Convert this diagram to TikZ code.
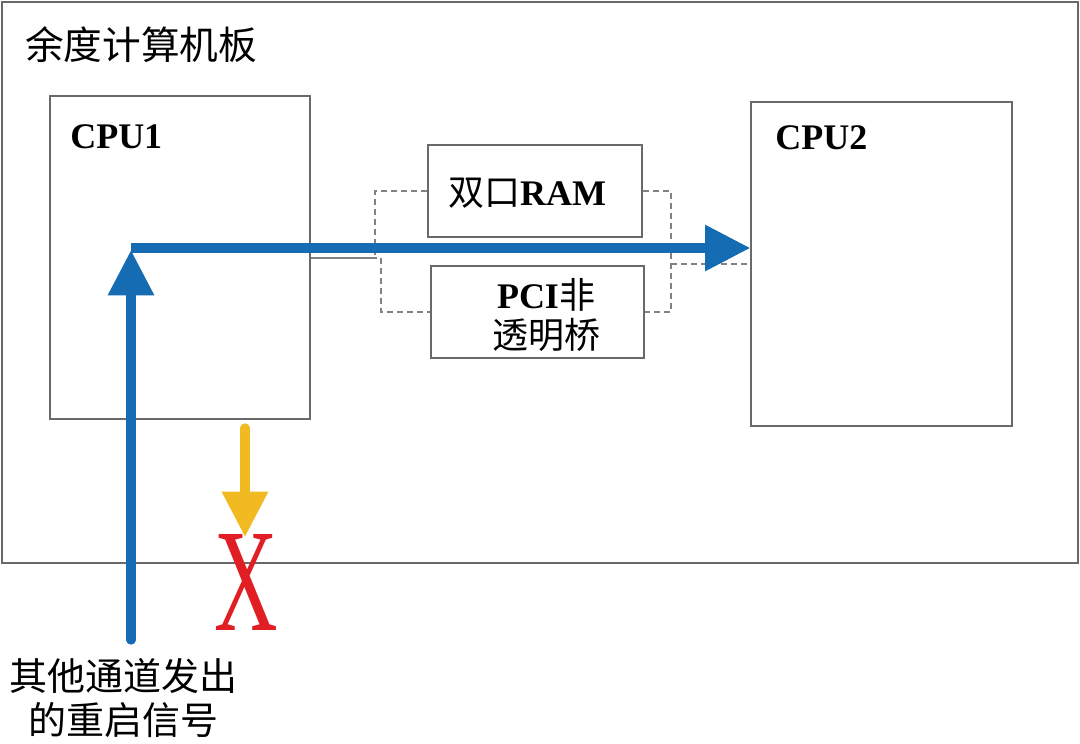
\documentclass[tikz,border=0pt]{standalone}
\usepackage{fontspec}
\setmainfont{Liberation Serif}
\newfontfamily\cjk{Noto Sans CJK SC}
\usetikzlibrary{arrows.meta,fit}
\definecolor{boxgray}{RGB}{105,105,105}
\definecolor{linkgray}{RGB}{130,130,130}
\definecolor{sigblue}{RGB}{22,108,178}
\definecolor{sigyellow}{RGB}{240,186,32}
\definecolor{xred}{RGB}{224,30,36}
\newcommand\cjkm[1]{{\cjk\mdseries #1}}
\begin{document}
\begin{tikzpicture}[x=0.75pt,y=-0.75pt,
  box/.style={draw=boxgray, line width=1pt, inner sep=0pt},
  link/.style={draw=linkgray, line width=1pt, dash pattern=on 4.5pt off 3pt},
  solidlink/.style={draw=linkgray, line width=1pt},
  sig/.style={line width=7pt, line cap=round, -{Triangle[length=34pt,width=33pt]}},
  lbl/.style={inner sep=0pt, font=\fontsize{27pt}{30pt}\selectfont\bfseries},
  cjklbl/.style={inner sep=0pt, align=center, font=\fontsize{28.5pt}{33pt}\selectfont\cjk}]
\useasboundingbox (0,0) rectangle (1080,743);
\fill[white] (0,0) rectangle (1080,743);

% boxes
\node[box, fit={(2,2) (1078,563)}] (board) {};
\node[box, fit={(50,96) (310,419)}] (cpu1) {};
\node[box, fit={(751,102) (1012,426)}] (cpu2) {};
\node[box, fit={(428,145) (642,237)}] (ram) {};
\node[box, fit={(431,266) (644,358)}] (pci) {};

% labels
\node[cjklbl, font=\fontsize{29pt}{33pt}\selectfont\cjk] (title) at (141,45) {余度计算机板};
\node[lbl, anchor=base west] (cpu1lbl) at (70,148) {CPU1};
\node[lbl, anchor=base west] (cpu2lbl) at (775,149) {CPU2};
\node[lbl] (ramlbl) at (527,193) {\cjkm{双口}RAM};
\node[lbl, align=center] (pcilbl) at (546,315) {PCI\cjkm{非}\\\cjkm{透明桥}};
\node[cjklbl] (src) at (123,698) {其他通道发出\\的重启信号};
\node[inner sep=0pt, text=xred, xscale=0.6, font=\fontsize{110pt}{110pt}\selectfont] (x) at (246,582) {X};

% links between CPUs through RAM / PCI bridge
\coordinate (la) at (375,191);
\coordinate (lb) at (377,258);
\coordinate (lc) at (381,258);
\coordinate (ld) at (381,312);
\coordinate (ra) at (671,191);
\coordinate (rb) at (671,312);
\coordinate (rc) at (671,264);
\draw[link] (ram.west) -- (la) -- (la |- lb);
\draw[solidlink] (cpu1.east |- lb) -- (lb);
\draw[link] (lc) -- (ld) -- (pci.west);
\draw[link] (ram.east) -- (ra) -- (rb) -- (pci.east);
\draw[link] (rc) -- (rc -| cpu2.west);

% signals
\coordinate (vstart) at (131,640);
\coordinate (vtip) at (131,250);
\coordinate (hstart) at (131,248);
\draw[sig, draw=sigblue, fill=sigblue] (vstart) -- (vtip);
\draw[sig, draw=sigblue, fill=sigblue, line cap=butt] (hstart) -- (hstart -| cpu2.west);
\coordinate (ytop) at (245,428);
\coordinate (ytip) at (245,537);
\draw[sig, draw=sigyellow, fill=sigyellow] (ytop) -- (ytip);
\end{tikzpicture}
\end{document}
